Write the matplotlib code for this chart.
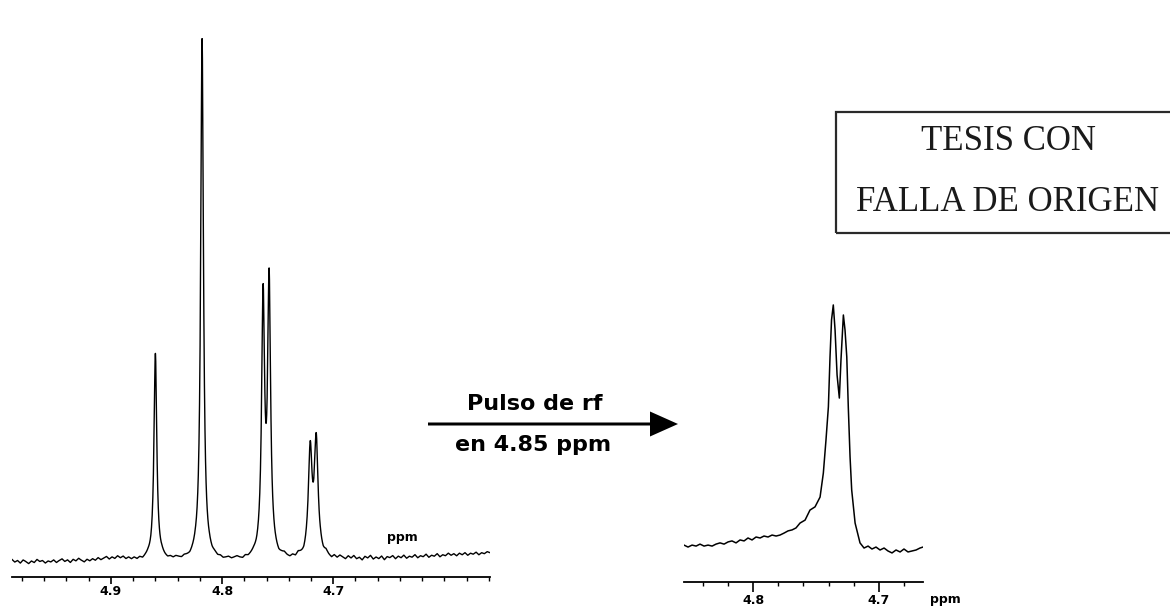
import numpy as np
import matplotlib
matplotlib.use("Agg")
import matplotlib.pyplot as plt
from matplotlib.patches import Rectangle, FancyArrow
from matplotlib.ticker import FixedLocator, MultipleLocator, FormatStrFormatter

W, H = 1170, 609

# ---- Full 1H spectrum: resolved lines (ppm, relative height, half width in ppm)
peak_ppm = [4.860, 4.818, 4.7631, 4.7577, 4.7207, 4.7153]
peak_height = [39.5, 100.0, 48.6, 52.0, 19.7, 21.8]
peak_hwhm = [0.0015, 0.0015, 0.0016, 0.0016, 0.0020, 0.0020]

# Baseline trace of the full spectrum, every 0.0025 ppm from the 4.989 ppm end
baseline_start = 4.989
baseline_step = 0.0025
left_baseline = [
    -0.3, -0.8, -0.5, -1.0, -0.4, -0.7, -1.1, -0.6, -0.9, -0.3,
    -0.7, -0.5, -1.0, -0.6, -0.8, -0.4, -0.9, -0.5, -0.2, -0.7,
    -0.4, -0.9, -0.3, -0.6, -0.1, -0.5, -0.8, -0.3, -0.6, -0.2,
    -0.5, 0.0, -0.4, -0.1, 0.2, -0.3, 0.1, -0.2, 0.3, -0.1,
    0.2, -0.3, 0.0, -0.4, -0.1, -0.5, -0.2, -0.6, -0.3, -0.1,
    -0.4, -0.2, -0.5, -0.3, -0.1, -0.4, -0.6, -0.3, -0.5, -0.2,
    -0.4, -0.6, -0.3, -0.5, -0.7, -0.4, -0.2, -0.5, -0.3, -0.6,
    -0.4, -0.2, -0.5, -0.3, -0.6, -0.4, -0.7, -0.5, -0.3, -0.6,
    -0.4, -0.2, -0.5, -0.7, -0.3, -0.6, -0.4, -0.2, -0.5, -0.3,
    -0.1, -0.6, -0.3, -0.5, -0.2, -0.4, -0.7, -0.3, 0.0, -0.4,
    -0.6, -0.2, -0.5, 0.1, -0.3, -0.7, -0.2, 0.2, -0.4, -0.1,
    -0.5, 0.0, -0.3, 0.3, -0.2, -0.5, 0.1, -0.3, 0.2, -0.1,
    -0.4, 0.2, -0.2, 0.3, -0.3, 0.0, -0.5, 0.2, -0.1, 0.4,
    -0.3, 0.1, -0.2, 0.3, -0.4, 0.2, 0.0, 0.4, -0.2, 0.3,
    0.0, 0.5, -0.1, 0.3, 0.1, 0.6, 0.0, 0.4, 0.2, 0.7,
    0.1, 0.5, 0.3, 0.8, 0.2, 0.6, 0.4, 0.9, 0.5, 0.8,
    0.4, 0.9, 0.6, 1.0, 0.5, 0.9, 0.7, 1.1, 0.6, 1.0,
    0.8, 1.2, 1.0,
]

# ---- Spectrum after the rf pulse at 4.85 ppm (ppm, relative intensity)
sel_ppm = [
    4.8548, 4.8516, 4.8484, 4.8452, 4.8421, 4.8389, 4.8357, 4.8325, 4.8294, 4.8262,
    4.8230, 4.8198, 4.8167, 4.8135, 4.8103, 4.8071, 4.8040, 4.8008, 4.7976, 4.7944,
    4.7913, 4.7881, 4.7849, 4.7817, 4.7786, 4.7754, 4.7722, 4.7690, 4.7659, 4.7627,
    4.7587, 4.7548, 4.7508, 4.7468, 4.7442, 4.7421, 4.7402, 4.7389, 4.7377, 4.7363,
    4.7349, 4.7333, 4.7315, 4.7302, 4.7283, 4.7270, 4.7256, 4.7244, 4.7230, 4.7217,
    4.7190, 4.7151, 4.7119, 4.7087, 4.7056, 4.7024, 4.6992, 4.6960, 4.6929, 4.6897,
    4.6865, 4.6833, 4.6802, 4.6770, 4.6738, 4.6706, 4.6675, 4.6651,
]
sel_intensity = [
    2.0, 1.2, 2.0, 1.6, 2.4, 1.6, 2.0, 1.6, 2.4, 2.9,
    2.4, 3.3, 3.7, 2.9, 4.1, 3.7, 4.9, 4.1, 5.3, 4.9,
    5.7, 5.3, 6.1, 5.7, 6.1, 6.9, 7.8, 8.2, 9.0, 11.0,
    12.2, 16.3, 17.6, 21.6, 31.4, 44.9, 58.4, 78.8, 93.9, 100.0,
    89.8, 71.4, 62.0, 77.6, 95.9, 89.8, 78.8, 58.4, 38.0, 24.5,
    11.0, 2.9, 0.8, 1.6, 0.4, 1.2, 0.0, 0.8, -0.4, -1.2,
    0.0, -0.8, 0.4, -0.8, -0.4, 0.0, 0.8, 1.2,
]

full_ticks = [4.9, 4.8, 4.7]
sel_ticks = [4.8, 4.7]

BOLD = dict(family="DejaVu Sans", weight="bold")


def px(x, y):
    """Figure-fraction coordinates from pixel position (origin top-left)."""
    return x / W, 1 - y / H


def style_axis(ax, ticks, tick_len, pad):
    for side in ("left", "right", "top"):
        ax.spines[side].set_visible(False)
    ax.spines["bottom"].set_linewidth(1.3)
    ax.set_yticks([])
    ax.xaxis.set_major_locator(FixedLocator(ticks))
    ax.xaxis.set_minor_locator(MultipleLocator(0.02))
    ax.xaxis.set_major_formatter(FormatStrFormatter("%.1f"))
    ax.tick_params(axis="x", which="major", direction="out", length=tick_len,
                   width=1.2, pad=pad, labelsize=9)
    ax.tick_params(axis="x", which="minor", direction="out", length=3, width=1.0)
    for lab in ax.get_xticklabels():
        lab.set_fontfamily("DejaVu Sans")
        lab.set_fontweight("bold")
    ax.patch.set_alpha(0)


fig = plt.figure(figsize=(W / 100, H / 100), dpi=100)

# ---- full spectrum
base_ppm = baseline_start - baseline_step * np.arange(len(left_baseline))
grid = np.linspace(base_ppm[-1], base_ppm[0], 4301)
spectrum = np.interp(grid, base_ppm[::-1], np.array(left_baseline)[::-1])
for p, h, w in zip(peak_ppm, peak_height, peak_hwhm):
    spectrum = spectrum + h / (1.0 + ((grid - p) / w) ** 2)

axL = fig.add_axes([12 / W, (H - 577) / H, 478 / W, (577 - 20) / H])
axL.plot(grid, spectrum, color="black", lw=1.0)
axL.set_xlim(base_ppm[0], base_ppm[-1])
axL.set_ylim(-3.65, 103.3)
style_axis(axL, full_ticks, 5, 1.0)
fig.text(*px(402, 537), "ppm", ha="center", va="center", fontsize=9, **BOLD)

# ---- spectrum after selective irradiation
axR = fig.add_axes([684 / W, (H - 582) / H, 239 / W, (582 - 290) / H])
axR.plot(sel_ppm, sel_intensity, color="black", lw=1.1)
axR.set_xlim(sel_ppm[0], sel_ppm[-1])
axR.set_ylim(-13.06, 106.1)
style_axis(axR, sel_ticks, 7, 1.5)
fig.text(*px(945, 599), "ppm", ha="center", va="center", fontsize=9, **BOLD)

# ---- arrow with the pulse description
ov = fig.add_axes([0, 0, 1, 1], zorder=-1)
ov.set_xlim(0, W)
ov.set_ylim(H, 0)
ov.axis("off")
ov.patch.set_alpha(0)
ov.add_patch(FancyArrow(428, 424, 250, 0, width=3, head_width=25, head_length=28,
                        length_includes_head=True, color="black", lw=0))
fig.text(*px(535, 404), "Pulso de rf", ha="center", va="center", fontsize=16, **BOLD)
fig.text(*px(533, 445), "en 4.85 ppm", ha="center", va="center", fontsize=16, **BOLD)

# ---- stamp box
x0, y0 = px(836, 233)
fig.add_artist(Rectangle((x0, y0), (1185 - 836) / W, (233 - 112) / H,
                         transform=fig.transFigure, fill=False, lw=1.6, ec="#2a2a2a"))
fig.text(*px(1008, 142), "TESIS CON", ha="center", va="center", fontsize=25,
         family="Liberation Serif", color="#1a1a1a")
fig.text(*px(1007, 203), "FALLA DE ORIGEN", ha="center", va="center", fontsize=25,
         family="Liberation Serif", color="#1a1a1a")

fig.savefig("out.png", dpi=100, facecolor="white")
